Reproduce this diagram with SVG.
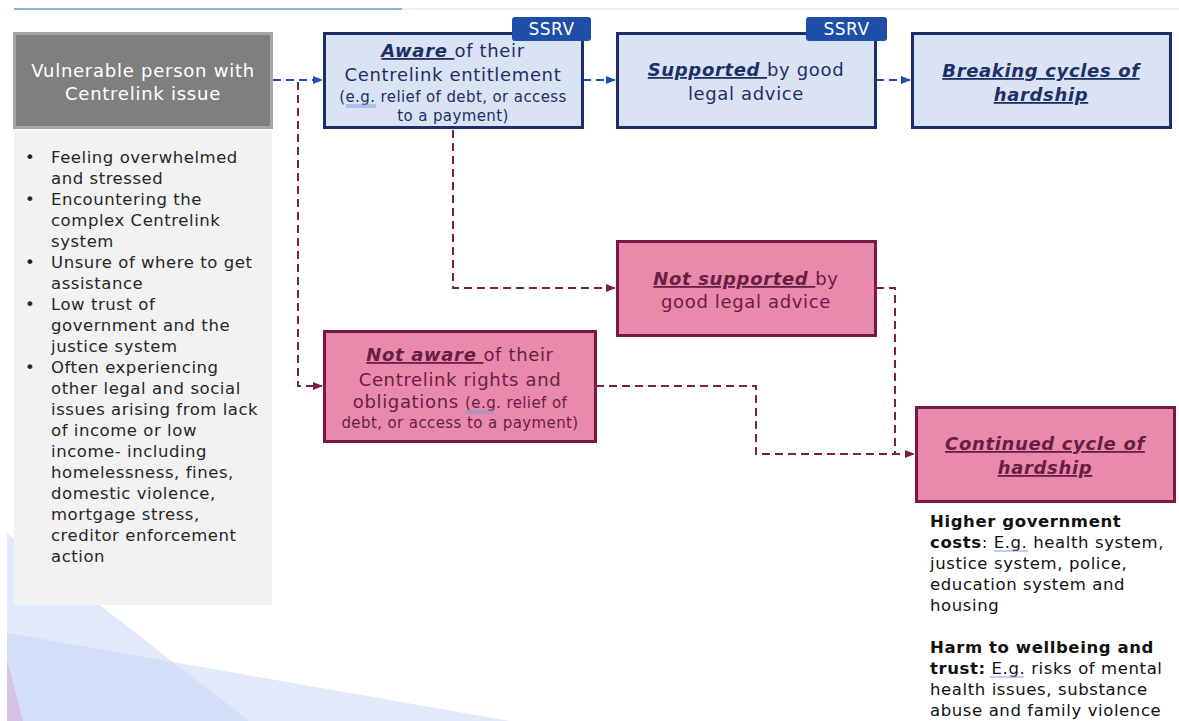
<svg xmlns="http://www.w3.org/2000/svg" width="1179" height="721" viewBox="0 0 1179 721">
<defs>
<style>
text{font-family:"DejaVu Sans","Verdana",sans-serif;}
.blue{fill:#dae3f3;stroke:#1c2f66;stroke-width:3;}
.pink{fill:#e98aad;stroke:#761a44;stroke-width:3;}
.nt{fill:#1c2f66;font-size:18px;letter-spacing:0.65px;}
.pt{fill:#6a1d42;font-size:18px;letter-spacing:0.65px;}
.sm{font-size:15px;letter-spacing:0.4px;}
.b{font-weight:bold;font-style:italic;text-decoration:underline;}
.bul{fill:#262626;font-size:16.5px;letter-spacing:0.55px;}
.tag{fill:#1f4ea8;}
.tagt{fill:#fff;font-size:17px;letter-spacing:0.5px;}
.cb{fill:none;stroke:#1f4fb4;stroke-width:2;stroke-dasharray:8,5;}
.cm{fill:none;stroke:#7a1f45;stroke-width:2;stroke-dasharray:8,5;}
.rt{fill:#111;font-size:16.5px;letter-spacing:0.6px;}
.sp{stroke:#7b9ce0;stroke-width:1;}
</style>
<marker id="ab" markerWidth="10" markerHeight="10" refX="9" refY="5" orient="auto" markerUnits="userSpaceOnUse"><path d="M0,1 L10,5 L0,9 z" fill="#1f4fb4"/></marker>
<marker id="am" markerWidth="10" markerHeight="10" refX="9" refY="5" orient="auto" markerUnits="userSpaceOnUse"><path d="M0,1 L10,5 L0,9 z" fill="#7a1f45"/></marker>
</defs>
<rect width="1179" height="721" fill="#fff"/>
<g id="decor">
<line x1="402" y1="9" x2="1179" y2="9" stroke="#e6e6e6" stroke-width="1.5"/>
<line x1="14" y1="9" x2="402" y2="9" stroke="#5b9bd5" stroke-width="1.5"/>
<polygon points="7,533 249,721 7,721" fill="#c9d7f5" opacity="0.55"/>
<polygon points="7,633 510,721 7,721" fill="#c9d7f5" opacity="0.55"/>
<polygon points="7,660 23,721 7,721" fill="#d6bfe0" opacity="0.9"/>
</g>
<g id="connectors">
<path class="cb" d="M273,80 H322" marker-end="url(#ab)"/>
<path class="cb" d="M583,80 H615" marker-end="url(#ab)"/>
<path class="cb" d="M876,80 H910" marker-end="url(#ab)"/>
<path class="cm" d="M298,82 V386 H322" marker-end="url(#am)"/>
<path class="cm" d="M453,130 V288 H615" marker-end="url(#am)"/>
<path class="cm" d="M876,288 H895 V454 H914" marker-end="url(#am)"/>
<path class="cm" d="M596,386 H756 V454 H895"/>
</g>
<g id="panel">
<rect x="14" y="130" width="258" height="475" fill="#f2f2f2"/>
<g class="bul">
<text x="25" y="163">•</text>
<text x="51" y="163">Feeling overwhelmed</text>
<text x="51" y="184">and stressed</text>
<text x="25" y="205">•</text>
<text x="51" y="205">Encountering the</text>
<text x="51" y="226">complex Centrelink</text>
<text x="51" y="247">system</text>
<text x="25" y="268">•</text>
<text x="51" y="268">Unsure of where to get</text>
<text x="51" y="289">assistance</text>
<text x="25" y="310">•</text>
<text x="51" y="310">Low trust of</text>
<text x="51" y="331">government and the</text>
<text x="51" y="352">justice system</text>
<text x="25" y="373">•</text>
<text x="51" y="373">Often experiencing</text>
<text x="51" y="394">other legal and social</text>
<text x="51" y="415">issues arising from lack</text>
<text x="51" y="436">of income or low</text>
<text x="51" y="457">income- including</text>
<text x="51" y="478">homelessness, fines,</text>
<text x="51" y="499">domestic violence,</text>
<text x="51" y="520">mortgage stress,</text>
<text x="51" y="541">creditor enforcement</text>
<text x="51" y="562">action</text>
</g>
</g>
<g id="vulnerable">
<rect x="14.5" y="33.5" width="257" height="94" fill="#7f7f7f" stroke="#a6a6a6" stroke-width="3"/>
<text x="143" y="77" text-anchor="middle" fill="#fff" font-size="18px" letter-spacing="0.75px">Vulnerable person with</text>
<text x="143" y="100" text-anchor="middle" fill="#fff" font-size="18px" letter-spacing="0.75px">Centrelink issue</text>
</g>
<g id="aware">
<rect class="blue" x="324.5" y="33.5" width="258" height="94"/>
<text class="nt" x="453" y="57" text-anchor="middle"><tspan class="b">Aware </tspan>of their</text>
<text class="nt" x="453" y="81" text-anchor="middle">Centrelink entitlement</text>
<text class="nt sm" x="453" y="102" text-anchor="middle">(e.g. relief of debt, or access</text>
<text class="nt sm" x="453" y="121" text-anchor="middle">to a payment)</text>
<line class="sp" x1="346" y1="105" x2="376" y2="105"/>
<line class="sp" x1="346" y1="107" x2="376" y2="107"/>
<rect class="tag" x="512" y="17" width="79" height="24" rx="3"/>
<text class="tagt" x="551.5" y="35" text-anchor="middle">SSRV</text>
</g>
<g id="supported">
<rect class="blue" x="617.5" y="33.5" width="258" height="94"/>
<text class="nt" x="746" y="76" text-anchor="middle"><tspan class="b">Supported </tspan>by good</text>
<text class="nt" x="746" y="100" text-anchor="middle">legal advice</text>
<rect class="tag" x="806" y="17" width="81" height="24" rx="3"/>
<text class="tagt" x="846.5" y="35" text-anchor="middle">SSRV</text>
</g>
<g id="breaking">
<rect class="blue" x="912.5" y="33.5" width="258" height="94"/>
<text class="nt b" x="1041" y="77" text-anchor="middle">Breaking cycles of</text>
<text class="nt b" x="1041" y="101" text-anchor="middle">hardship</text>
</g>
<g id="notsupported">
<rect class="pink" x="617.5" y="241.5" width="258" height="94"/>
<text class="pt" x="746" y="285" text-anchor="middle"><tspan class="b">Not supported </tspan>by</text>
<text class="pt" x="746" y="308" text-anchor="middle">good legal advice</text>
</g>
<g id="notaware">
<rect class="pink" x="324.5" y="331.5" width="271" height="110"/>
<text class="pt" x="460" y="361" text-anchor="middle"><tspan class="b">Not aware </tspan>of their</text>
<text class="pt" x="460" y="386" text-anchor="middle">Centrelink rights and</text>
<text class="pt" x="460" y="408" text-anchor="middle">obligations <tspan class="sm">(e.g. relief of</tspan></text>
<text class="pt sm" x="460" y="428" text-anchor="middle">debt, or access to a payment)</text>
<line class="sp" x1="466" y1="411" x2="494" y2="411"/>
<line class="sp" x1="466" y1="413" x2="494" y2="413"/>
</g>
<g id="continued">
<rect class="pink" x="916.5" y="407.5" width="258" height="94"/>
<text class="pt b" x="1045" y="450" text-anchor="middle">Continued cycle of</text>
<text class="pt b" x="1045" y="474" text-anchor="middle">hardship</text>
</g>
<g id="impacts" class="rt">
<text x="930" y="527" font-weight="bold">Higher government</text>
<text x="930" y="548"><tspan font-weight="bold">costs</tspan>: E.g. health system,</text>
<text x="930" y="569">justice system, police,</text>
<text x="930" y="590">education system and</text>
<text x="930" y="611">housing</text>
<text x="930" y="653" font-weight="bold">Harm to wellbeing and</text>
<text x="930" y="674"><tspan font-weight="bold">trust:</tspan> E.g. risks of mental</text>
<text x="930" y="695">health issues, substance</text>
<text x="930" y="716">abuse and family violence</text>
<line class="sp" x1="994" y1="551" x2="1028" y2="551"/>
<line class="sp" x1="990" y1="677" x2="1024" y2="677"/>
</g>
</svg>
